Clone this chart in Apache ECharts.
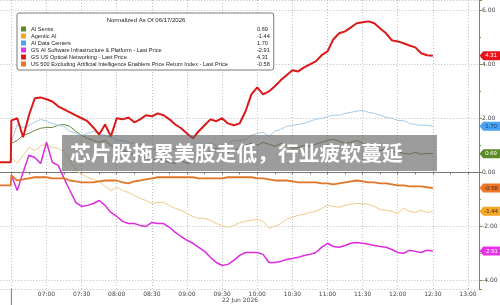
<!DOCTYPE html>
<html>
<head>
<meta charset="utf-8">
<script src="https://cdn.jsdelivr.net/npm/echarts@6/dist/echarts.min.js"></script>
<style>
  html, body { margin: 0; padding: 0; background: #fff; }
  #main { width: 500px; height: 305px; }
</style>
</head>
<body>
<div id="main"></div>
<script>
// minutes after midnight, 22 Jun 2026
const times = [390, 395, 400, 405, 410, 415, 420, 425, 430, 435, 440, 445, 450, 455, 460, 465, 470, 475, 480, 485,
  490, 495, 500, 505, 510, 515, 520, 525, 530, 535, 540, 545, 550, 555, 560, 565, 570, 575, 580, 585,
  590, 595, 600, 605, 610, 615, 620, 625, 630, 635, 640, 645, 650, 655, 660, 665, 670, 675, 680, 685,
  690, 695, 700, 705, 710, 715, 720, 725, 730, 735, 740, 745, 750]
// previous close segment (only red and orange visible)
const preTimes = [360, 389.5]
const opticalPre = [0.37, 0.37]
const us500Pre = [-0.48, -0.48]

const semis = [1.07, 1.18, 1.37, 1.44, 1.55, 1.63, 1.66, 1.66, 1.74, 1.77,
  1.70, 1.52, 1.37, 1.26, 1.18, 1.11, 1.18, 1.00, 0.89, 0.81,
  0.74, 0.63, 0.63, 0.52, 0.44, 0.52, 0.44, 0.37, 0.33, 0.44,
  0.33, 0.37, 0.52, 0.63, 0.81, 0.89, 0.81, 0.74, 0.81, 0.89,
  1.00, 1.07, 1.00, 1.11, 1.04, 0.96, 1.07, 1.00, 0.89, 0.92,
  1.00, 0.96, 1.04, 1.11, 1.18, 1.22, 1.15, 1.07, 1.11, 1.18,
  1.07, 0.96, 0.89, 0.81, 0.85, 0.74, 0.78, 0.70, 0.67, 0.74,
  0.67, 0.70, 0.69]
const agentic = [0.55, 0.33, 0.63, 0.92, 0.81, 0.96, 1.07, 0.92, 0.89, 0.78,
  0.44, 0.07, -0.07, -0.18, -0.26, -0.33, -0.52, -0.67, -0.55, -0.67,
  -0.74, -0.85, -0.96, -1.04, -1.15, -1.11, -1.11, -1.22, -1.33, -1.40,
  -1.52, -1.63, -1.70, -1.70, -1.77, -1.89, -1.96, -2.03, -1.96, -1.85,
  -1.81, -1.77, -1.74, -1.81, -2.07, -2.00, -1.89, -1.74, -1.66, -1.59,
  -1.55, -1.48, -1.44, -1.33, -1.22, -1.26, -1.29, -1.22, -1.18, -1.15,
  -1.15, -1.18, -1.26, -1.37, -1.40, -1.44, -1.52, -1.33, -1.44, -1.48,
  -1.40, -1.48, -1.44]
const dataCenters = [1.11, 1.77, 1.66, 1.74, 1.85, 1.96, 1.89, 1.81, 1.74, 1.70,
  1.52, 1.44, 1.37, 1.44, 1.52, 1.44, 1.37, 1.29, 1.18, 1.18,
  1.11, 1.07, 1.04, 0.96, 0.89, 0.81, 0.74, 0.81, 0.89, 0.81,
  0.74, 0.70, 0.81, 0.96, 1.07, 1.00, 0.96, 1.07, 1.18, 1.18,
  1.22, 1.37, 1.44, 1.48, 1.33, 1.52, 1.59, 1.70, 1.74, 1.77,
  1.81, 1.89, 1.96, 2.00, 2.07, 2.11, 2.11, 2.18, 2.22, 2.26,
  2.29, 2.22, 2.18, 2.11, 2.03, 2.00, 1.92, 1.92, 1.81, 1.77,
  1.74, 1.74, 1.70]
const software = [-0.11, -0.67, 0.00, 0.63, 0.55, 0.33, 1.11, 0.37, 0.26, -0.22,
  -0.67, -1.11, -1.26, -1.22, -1.15, -1.04, -1.22, -1.48, -1.63, -1.81,
  -1.89, -1.89, -1.96, -2.00, -1.85, -1.89, -1.89, -2.03, -2.22, -2.37,
  -2.51, -2.62, -2.77, -2.92, -3.14, -3.33, -3.44, -3.40, -3.25, -3.07,
  -2.96, -2.96, -2.96, -3.03, -3.33, -3.33, -3.29, -3.22, -3.18, -3.14,
  -3.07, -3.03, -2.96, -2.77, -2.62, -2.74, -2.77, -2.70, -2.62, -2.59,
  -2.62, -2.66, -2.70, -2.74, -2.77, -2.85, -2.96, -2.99, -2.88, -2.92,
  -2.96, -2.88, -2.91]
const optical = [1.92, 2.00, 1.30, 2.11, 2.74, 2.77, 2.70, 2.62, 2.44, 2.33,
  2.22, 2.11, 2.00, 1.89, 1.66, 1.40, 1.77, 1.33, 2.00, 1.96,
  2.03, 1.85, 1.96, 2.11, 2.07, 2.18, 2.11, 1.96, 1.77, 1.63,
  1.44, 1.26, 1.52, 1.74, 1.96, 1.89, 2.00, 1.81, 1.74, 1.81,
  2.26, 2.88, 3.14, 2.88, 2.99, 3.18, 3.40, 3.59, 3.77, 3.73,
  3.88, 3.99, 4.10, 4.33, 4.47, 4.92, 5.14, 5.21, 5.36, 5.51,
  5.55, 5.58, 5.51, 5.32, 5.14, 4.88, 4.84, 4.77, 4.69, 4.62,
  4.40, 4.33, 4.31]
const us500 = [-0.11, -0.30, -0.26, -0.22, -0.18, -0.18, -0.18, -0.22, -0.22, -0.22,
  -0.30, -0.33, -0.37, -0.37, -0.37, -0.33, -0.30, -0.30, -0.30, -0.37,
  -0.41, -0.33, -0.30, -0.26, -0.22, -0.18, -0.18, -0.18, -0.18, -0.18,
  -0.18, -0.18, -0.22, -0.22, -0.22, -0.22, -0.22, -0.18, -0.18, -0.18,
  -0.18, -0.18, -0.22, -0.22, -0.26, -0.30, -0.30, -0.30, -0.33, -0.37,
  -0.37, -0.37, -0.37, -0.41, -0.41, -0.44, -0.41, -0.37, -0.33, -0.30,
  -0.33, -0.37, -0.37, -0.41, -0.41, -0.44, -0.48, -0.48, -0.52, -0.52,
  -0.52, -0.55, -0.58]

const names = ['AI Semis', 'Agentic AI', 'AI Data Centers',
  'GS AI Software Infrastructure & Platform - Last Price',
  'GS US Optical Networking - Last Price',
  'US 500 Excluding Artificial Intelligence Enablers Price Return Index - Last Price']

const xMin = 360
const xMax = 789.4
const FONT = 'Liberation Sans'
const TAG = 'path://M0,5L4,0L22,0L22,10L4,10Z'

function pairs(ts, vs) {
  return ts.map((t, i) => [t, vs[i]])
}

function hhmm(v) {
  const h = Math.floor(v / 60), m = Math.round(v % 60)
  return (h < 10 ? '0' : '') + h + ':' + (m < 10 ? '0' : '') + m
}

function makeSeries(name, data, last, cfg) {
  return {
    name: name,
    type: 'line',
    data: data,
    showSymbol: false,
    symbol: 'none',
    z: cfg.z,
    itemStyle: { color: cfg.key },
    lineStyle: { color: cfg.line, width: cfg.width },
    markPoint: {
      silent: true,
      symbol: TAG,
      symbolSize: [21, 9],
      symbolOffset: [11, 0],
      symbolKeepAspect: false,
      itemStyle: { color: cfg.key },
      label: { show: true, color: cfg.text, fontSize: 6, fontFamily: FONT, offset: [1, 0],
        formatter: () => last.toFixed(2) },
      data: [{ coord: [xMax, last] }]
    }
  }
}

const lastVals = [semis, agentic, dataCenters, software, optical, us500].map(a => a[a.length - 1])
const keyColors = ['#5b8c24', '#f5a623', '#4aa3f0', '#e632e6', '#e5141b', '#ef7426']

var chart = echarts.init(document.getElementById('main'))

var option = {
  animation: false,
  grid: { left: -23.75, right: 21, top: 0, bottom: 16, outerBoundsMode: 'none', containLabel: false },
  legend: {
    orient: 'vertical',
    left: 17,
    top: 13,
    padding: [13, 4, 3, 4],
    backgroundColor: '#fff',
    borderColor: '#7a7a7a',
    borderWidth: 1,
    borderRadius: 2,
    itemWidth: 5,
    itemHeight: 5,
    itemGap: 1,
    icon: 'rect',
    selectedMode: false,
    data: names.map((n, i) => ({ name: n, itemStyle: { color: keyColors[i] } })),
    formatter: function (name) {
      const i = names.indexOf(name)
      return '{n|' + name + '}{v|' + lastVals[i].toFixed(2) + '}'
    },
    textStyle: {
      fontFamily: FONT, fontSize: 5.6, color: '#222',
      rich: {
        n: { width: 226, fontSize: 5.6, fontFamily: FONT, color: '#222', lineHeight: 7 },
        v: { fontSize: 5.6, fontFamily: FONT, color: '#222', lineHeight: 7 }
      }
    }
  },
  xAxis: {
    type: 'value',
    min: xMin,
    max: xMax,
    interval: 30,
    axisLine: { lineStyle: { color: '#777', width: 1 } },
    axisTick: { show: true, length: 2, lineStyle: { color: '#777' } },
    minorTick: { show: true, splitNumber: 2, length: 2, lineStyle: { color: '#777' } },
    axisLabel: {
      fontSize: 6, fontFamily: 'DejaVu Sans', color: '#444', margin: 2,
      showMaxLabel: false,
      formatter: v => (v < 420 ? '' : hhmm(v))
    },
    splitLine: { show: true, lineStyle: { color: '#bdbdbd', type: [1, 2], width: 1 } }
  },
  yAxis: {
    type: 'value',
    position: 'right',
    min: -4.31,
    max: 6.37,
    splitNumber: 5,
    axisLine: { show: true, lineStyle: { color: '#6c9a2e', width: 1 } },
    axisTick: { show: true, length: 3, lineStyle: { color: '#6c9a2e' } },
    minorTick: { show: true, splitNumber: 2, length: 2, lineStyle: { color: '#6c9a2e' } },
    axisLabel: {
      fontSize: 6, fontFamily: 'DejaVu Sans', color: '#444', margin: 3,
      showMinLabel: false, showMaxLabel: false,
      formatter: v => v.toFixed(2)
    },
    splitLine: { show: true, lineStyle: { color: '#bdbdbd', type: [1, 2], width: 1 } }
  },
  graphic: {
    elements: [
      { type: 'text', z: 100, x: 146, y: 20,
        style: { text: 'Normalized As Of 06/17/2026', align: 'center', verticalAlign: 'middle',
          fontSize: 6, fontFamily: FONT, fill: '#222' } },
      { type: 'line', z: 100, shape: { x1: 11.4, y1: 289, x2: 11.4, y2: 305 },
        style: { stroke: '#777', lineWidth: 1 } },
      { type: 'text', z: 100, x: 240, y: 300,
        style: { text: '22 Jun 2026', align: 'center', verticalAlign: 'middle',
          fontSize: 6, fontFamily: 'DejaVu Sans', fill: '#444' } },
      { type: 'rect', z: 100, shape: { x: 62, y: 135, width: 375, height: 36 },
        style: { fill: 'rgba(95,95,95,0.62)' } },
      { type: 'text', z: 101, x: 70, y: 153,
        style: { text: '芯片股拖累美股走低，行业疲软蔓延', verticalAlign: 'middle',
          fontSize: 20.8, fontWeight: 'bold', fontFamily: 'Noto Sans CJK SC', fill: '#fff' } }
    ]
  },
  series: [
    makeSeries(names[0], pairs(times, semis), lastVals[0],
      { key: keyColors[0], line: '#6a8a40', width: 1, text: '#fff', z: 2 }),
    makeSeries(names[1], pairs(times, agentic), lastVals[1],
      { key: keyColors[1], line: '#eecb86', width: 1, text: '#333', z: 2 }),
    makeSeries(names[2], pairs(times, dataCenters), lastVals[2],
      { key: keyColors[2], line: '#a3cbe6', width: 1, text: '#1b3a66', z: 2 }),
    makeSeries(names[3], pairs(times, software), lastVals[3],
      { key: keyColors[3], line: '#dd2bdd', width: 1.5, text: '#fff', z: 3 }),
    makeSeries(names[4], pairs(preTimes, opticalPre).concat(pairs(times, optical)), lastVals[4],
      { key: keyColors[4], line: '#dc1818', width: 2, text: '#fff', z: 5 }),
    makeSeries(names[5], pairs(preTimes, us500Pre).concat(pairs(times, us500)), lastVals[5],
      { key: keyColors[5], line: '#e07628', width: 1.8, text: '#333', z: 4 })
  ]
}
chart.setOption(option)
</script>
</body>
</html>
